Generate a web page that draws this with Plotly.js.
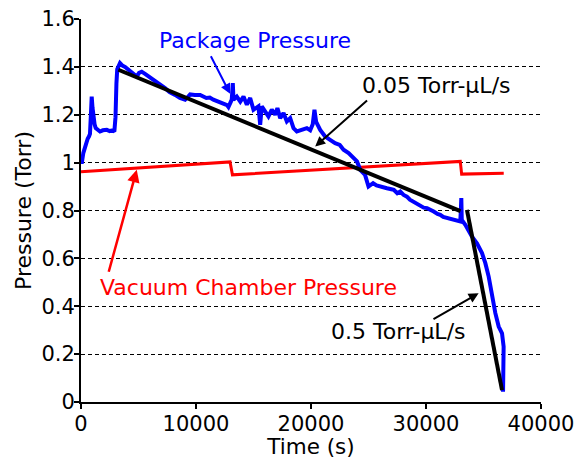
<!DOCTYPE html>
<html>
<head>
<meta charset="utf-8">
<script src="https://cdn.plot.ly/plotly-3.0.1.min.js"></script>
<style>html,body{margin:0;padding:0;background:#fff;}#chart{width:577px;height:459px;}</style>
</head>
<body>
<div id="chart"></div>
<script>
// Package pressure (blue) — time (s), pressure (Torr)
const packageTime = [0, 60, 200, 350, 450, 580, 700, 780, 860, 930, 1000, 1070, 1180, 1280, 1450, 1650, 1900, 2240, 2500, 2750, 2900, 3000, 3080, 3150, 3390, 3600, 3830, 4200, 4500, 4850, 5050, 5280, 5600, 5900, 6150, 6400, 6700, 7000, 7310, 7700, 8000, 8180, 8600, 9050, 9300, 9490, 9900, 10360, 10900, 11200, 11510, 12000, 12380, 12700, 12820, 13000, 13110, 13200, 13260, 13550, 13850, 14130, 14420, 14710, 15000, 15430, 15580, 15720, 16010, 16300, 16590, 16880, 17080, 17320, 17610, 17900, 18190, 18480, 18770, 19200, 19640, 19930, 20150, 20300, 20450, 20800, 21230, 21660, 22100, 22500, 22830, 23270, 23700, 24000, 24280, 24700, 25000, 25400, 25700, 26000, 26300, 26600, 26900, 27200, 27500, 27760, 28050, 28340, 28600, 28920, 29200, 29500, 29800, 30090, 30400, 30670, 31000, 31240, 31500, 31820, 32100, 32400, 32700, 32980, 33030, 33070, 33110, 33420, 34000, 34430, 34870, 35160, 35450, 35600, 35740, 36030, 36320, 36610, 36750, 36700, 36750, 36700];
const packagePressure = [1.03, 0.995, 1.04, 1.067, 1.08, 1.10, 1.11, 1.12, 1.2, 1.276, 1.23, 1.19, 1.16, 1.144, 1.135, 1.13, 1.135, 1.137, 1.132, 1.135, 1.13, 1.19, 1.33, 1.39, 1.416, 1.405, 1.40, 1.385, 1.37, 1.36, 1.375, 1.38, 1.37, 1.36, 1.353, 1.34, 1.33, 1.322, 1.311, 1.295, 1.29, 1.283, 1.27, 1.263, 1.275, 1.285, 1.283, 1.283, 1.27, 1.272, 1.263, 1.255, 1.249, 1.24, 1.232, 1.25, 1.263, 1.332, 1.263, 1.276, 1.255, 1.276, 1.242, 1.27, 1.221, 1.235, 1.158, 1.235, 1.214, 1.193, 1.221, 1.2, 1.228, 1.186, 1.207, 1.172, 1.186, 1.144, 1.13, 1.137, 1.144, 1.135, 1.16, 1.221, 1.17, 1.137, 1.109, 1.095, 1.081, 1.074, 1.054, 1.04, 1.019, 1.005, 0.97, 0.949, 0.90, 0.914, 0.905, 0.90, 0.898, 0.893, 0.89, 0.886, 0.872, 0.879, 0.865, 0.858, 0.845, 0.837, 0.828, 0.824, 0.812, 0.81, 0.80, 0.796, 0.786, 0.782, 0.773, 0.768, 0.765, 0.761, 0.756, 0.754, 0.80, 0.852, 0.761, 0.74, 0.691, 0.663, 0.622, 0.58, 0.524, 0.48, 0.44, 0.371, 0.315, 0.287, 0.231, 0.148, 0.092, 0.043];

// Vacuum chamber pressure (red)
const chamberTime = [0, 12960, 13170, 32980, 33100, 36760];
const chamberPressure = [0.962, 1.003, 0.949, 1.005, 0.952, 0.956];

// Leak-rate fit lines (black)
const fitSlowTime = [3250, 33000];
const fitSlowPressure = [1.388, 0.797];
const fitFastTime = [33560, 36610];
const fitFastPressure = [0.803, 0.05];

// Axis ticks
const xTickVals = [0, 10000, 20000, 30000, 40000];
const xTickText = ['0', '10000', '20000', '30000', '40000'];
const yTickVals = [0, 0.2, 0.4, 0.6, 0.8, 1, 1.2, 1.4, 1.6];
const yTickText = ['0', '0.2', '0.4', '0.6', '0.8', '1', '1.2', '1.4', '1.6'];

// Labels
const labelPackage = 'Package Pressure';
const labelChamber = 'Vacuum Chamber Pressure';
const labelSlow = '0.05 Torr-\u03bcL/s';
const labelFast = '0.5 Torr-\u03bcL/s';

const FONT = 'DejaVu Sans, Liberation Sans, Arial, sans-serif';

const traces = [
  {x: chamberTime, y: chamberPressure, mode: 'lines', line: {color: '#ff0000', width: 3}, hoverinfo: 'skip'},
  {x: packageTime, y: packagePressure, mode: 'lines', line: {color: '#0000ff', width: 4}, hoverinfo: 'skip'},
  {x: fitSlowTime, y: fitSlowPressure, mode: 'lines', line: {color: '#000000', width: 4}, hoverinfo: 'skip'},
  {x: fitFastTime, y: fitFastPressure, mode: 'lines', line: {color: '#000000', width: 4}, hoverinfo: 'skip'}
];

function arrow(x, y, ax, ay, color, w) {
  return {x: x, y: y, ax: ax, ay: ay, xref: 'x', yref: 'y', axref: 'x', ayref: 'y',
    text: '', showarrow: true, arrowhead: 2, arrowsize: 1, arrowwidth: w, arrowcolor: color,
    standoff: 0, startstandoff: 0};
}
function label(x, y, text, color) {
  return {x: x, y: y, xref: 'x', yref: 'y', text: text, showarrow: false,
    xanchor: 'center', yanchor: 'middle', font: {family: FONT, size: 22, color: color}};
}

const layout = {
  width: 577, height: 459,
  margin: {l: 81, r: 36, t: 19, b: 57},
  paper_bgcolor: '#ffffff', plot_bgcolor: '#ffffff',
  showlegend: false,
  xaxis: {
    range: [0, 40000], tickvals: xTickVals, ticktext: xTickText,
    ticks: 'outside', ticklen: 5, tickwidth: 2, tickcolor: '#000',
    showline: true, linewidth: 2, linecolor: '#000', showgrid: false, zeroline: false,
    tickfont: {family: FONT, size: 21, color: '#000'},
    ticklabelstandoff: -3,
    title: {text: 'Time (s)', font: {family: FONT, size: 21.5, color: '#000'}, standoff: 3},
    automargin: false
  },
  yaxis: {
    range: [0, 1.6], tickvals: yTickVals, ticktext: yTickText,
    ticks: 'outside', ticklen: 5, tickwidth: 2, tickcolor: '#000',
    showline: true, linewidth: 2, linecolor: '#000',
    showgrid: true, gridcolor: '#000', gridwidth: 1, griddash: '4px,3px', zeroline: false,
    tickfont: {family: FONT, size: 21, color: '#000'},
    ticklabelstandoff: -5,
    title: {text: 'Pressure (Torr)', font: {family: FONT, size: 22, color: '#000'}, standoff: 4},
    automargin: false
  },
  annotations: [
    label(15143, 1.509, labelPackage, '#0000ff'),
    arrow(12967, 1.2876, 11227, 1.4507, '#0000ff', 2),
    label(30896, 1.321, labelSlow, '#000000'),
    arrow(20365, 1.0673, 25004, 1.2655, '#000000', 2),
    label(14534, 0.4766, labelChamber, '#ff0000'),
    arrow(4848, 0.970, 2376, 0.538, '#ff0000', 2.5),
    label(27589, 0.294, labelFast, '#000000'),
    arrow(34577, 0.4544, 30521, 0.3428, '#000000', 2)
  ]
};

Plotly.newPlot('chart', traces, layout, {staticPlot: true, displayModeBar: false});
</script>
</body>
</html>
